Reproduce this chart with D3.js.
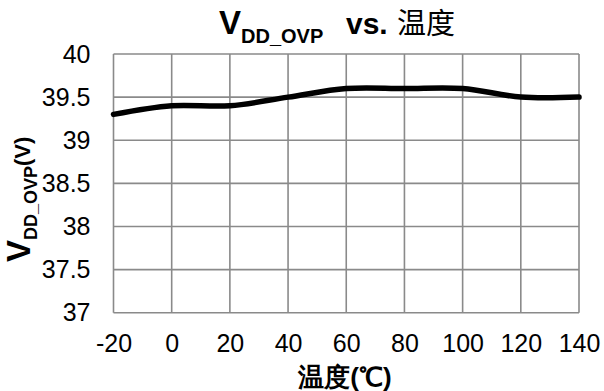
<!DOCTYPE html>
<html>
<head>
<meta charset="utf-8">
<script src="https://cdn.jsdelivr.net/npm/d3@7"></script>
<style>
  html, body { margin: 0; padding: 0; background: #fff; }
  svg { display: block; }
  text { font-family: "Liberation Sans", Arial, sans-serif; fill: #000; }
</style>
</head>
<body>
<svg id="chart" width="604" height="391"></svg>
<script>
// Over-voltage protection threshold vs. temperature
const temperatures = [-20, 0, 20, 40, 60, 80, 100, 120, 140];
const vddOvp = [39.3, 39.4, 39.4, 39.5, 39.6, 39.6, 39.6, 39.5, 39.5];
const xTicks = [-20, 0, 20, 40, 60, 80, 100, 120, 140];
const yTicks = [37, 37.5, 38, 38.5, 39, 39.5, 40];

const svg = d3.select("#chart");
const plot = { left: 113.5, right: 579, top: 54, bottom: 312.7 };

const x = d3.scaleLinear().domain([-20, 140]).range([plot.left, plot.right]);
const y = d3.scaleLinear().domain([37, 40]).range([plot.bottom, plot.top]);

const gridColor = "#8a8a8a";
const plainNum = d => String(d); // plain hyphen for negatives

// vertical grid lines
svg.append("g")
  .selectAll("line")
  .data(xTicks)
  .join("line")
  .attr("x1", d => x(d)).attr("x2", d => x(d))
  .attr("y1", plot.top).attr("y2", plot.bottom)
  .attr("stroke", gridColor).attr("stroke-width", 1.6);

// horizontal grid lines
svg.append("g")
  .selectAll("line")
  .data(yTicks)
  .join("line")
  .attr("x1", plot.left).attr("x2", plot.right)
  .attr("y1", d => y(d)).attr("y2", d => y(d))
  .attr("stroke", gridColor).attr("stroke-width", 1.6);

// y tick labels
const yAxis = d3.axisLeft(y).tickValues(yTicks).tickSize(0).tickPadding(23).tickFormat(plainNum);
const gy = svg.append("g").attr("transform", `translate(${plot.left},0)`).call(yAxis);
gy.select(".domain").remove();
gy.selectAll("text").attr("font-size", 25).attr("font-family", "Liberation Sans, Arial, sans-serif").attr("fill", "#000");

// x tick labels
const xAxis = d3.axisBottom(x).tickValues(xTicks).tickSize(0).tickPadding(22).tickFormat(plainNum);
const gx = svg.append("g").attr("transform", `translate(0,${plot.bottom})`).call(xAxis);
gx.select(".domain").remove();
gx.selectAll("text").attr("font-size", 25).attr("font-family", "Liberation Sans, Arial, sans-serif").attr("fill", "#000");

// data line, smoothed
const line = d3.line()
  .x((d, i) => x(temperatures[i]))
  .y(d => y(d))
  .curve(d3.curveCatmullRom.alpha(0.5));
svg.append("path")
  .datum(vddOvp)
  .attr("d", line)
  .attr("fill", "none")
  .attr("stroke", "#000")
  .attr("stroke-width", 5.5)
  .attr("stroke-linecap", "round");

// title
const title = svg.append("text")
  .attr("x", 219).attr("y", 34)
  .attr("font-weight", "bold");
title.append("tspan").attr("font-size", 33).text("V");
title.append("tspan").attr("font-size", 20).attr("dy", 9).text("DD_OVP");
title.append("tspan").attr("font-size", 30).attr("dy", -9).attr("x", 346).text("vs.");
title.append("tspan").attr("font-size", 29).attr("x", 397)
  .attr("font-weight", "normal")
  .attr("font-family", "Noto Sans CJK SC, sans-serif")
  .text("温度");

// x axis title
svg.append("text")
  .attr("x", 345).attr("y", 386)
  .attr("text-anchor", "middle")
  .attr("font-weight", "bold")
  .attr("font-size", 26)
  .attr("font-family", "Noto Sans CJK SC, sans-serif")
  .text("温度(℃)");

// y axis title
const yTitle = svg.append("text")
  .attr("transform", "translate(30,262) rotate(-90)")
  .attr("font-weight", "bold");
yTitle.append("tspan").attr("font-size", 33).text("V");
yTitle.append("tspan").attr("font-size", 18).attr("dy", 7).text("DD_OVP");
yTitle.append("tspan").attr("font-size", 22).attr("dy", -7).text("(V)");
</script>
</body>
</html>
